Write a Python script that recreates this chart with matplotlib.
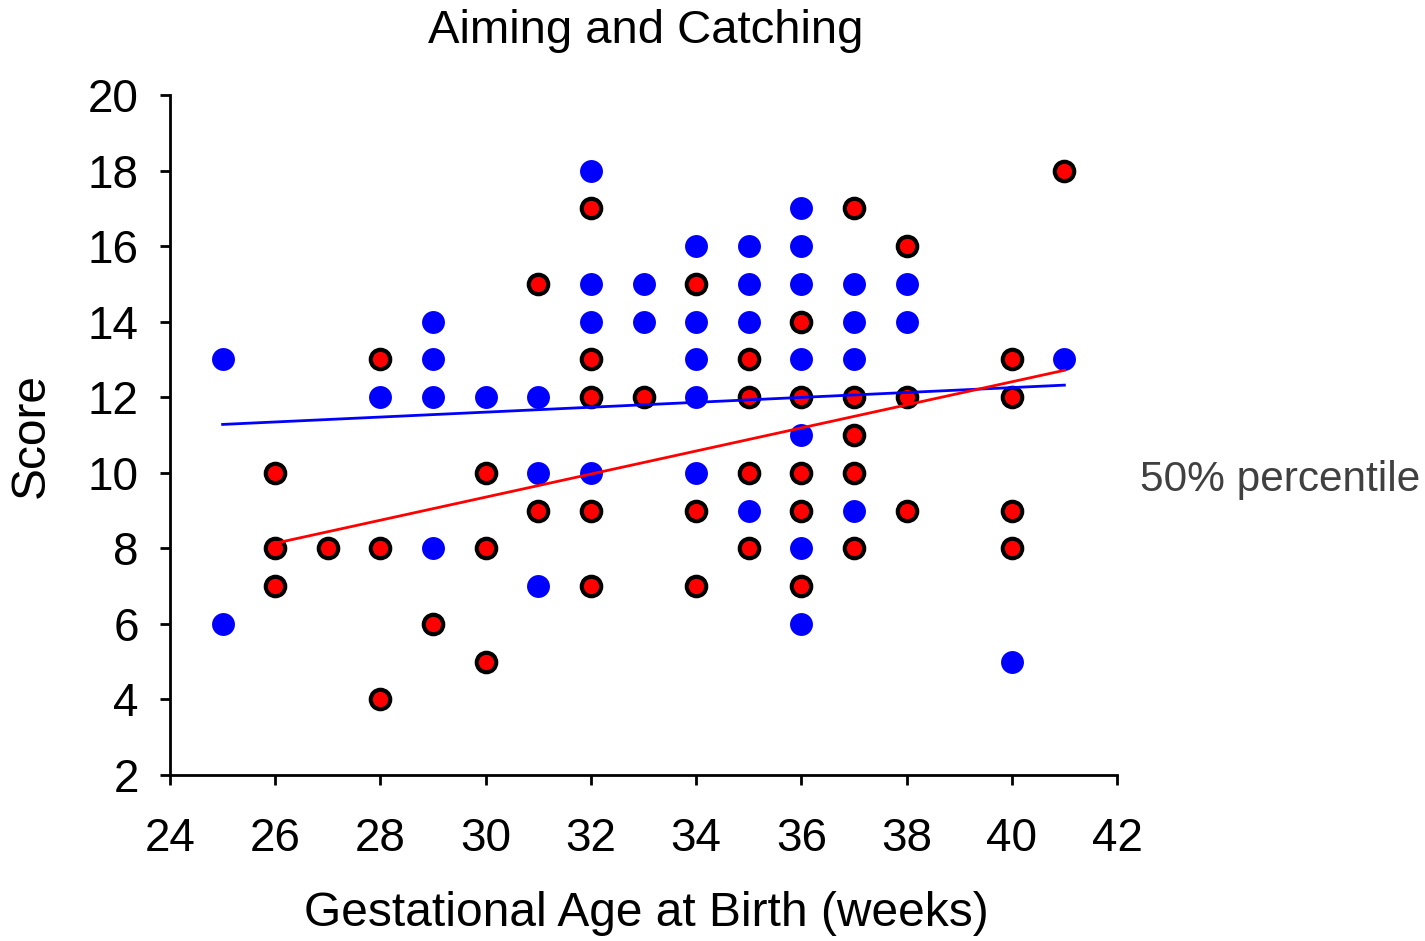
import numpy as np
import matplotlib
matplotlib.use("Agg")
import matplotlib.pyplot as plt

plt.rcParams['font.family'] = ['Liberation Sans', 'DejaVu Sans']

blue_x = [25, 25, 28, 29, 29, 29, 29, 30, 31, 31, 31, 32, 32, 32, 32, 33, 33,
          34, 34, 34, 34, 34, 35, 35, 35, 35, 36, 36, 36, 36, 36, 36, 36,
          37, 37, 37, 37, 38, 38, 40, 41]
blue_y = [13, 6, 12, 14, 13, 12, 8, 12, 12, 10, 7, 18, 15, 14, 10, 15, 14,
          16, 14, 13, 12, 10, 16, 15, 14, 9, 17, 16, 15, 13, 11, 8, 6,
          15, 14, 13, 9, 15, 14, 5, 13]

red_x = [26, 26, 26, 27, 28, 28, 28, 29, 30, 30, 30, 31, 31, 32, 32, 32, 32, 32,
         33, 34, 34, 34, 35, 35, 35, 35, 36, 36, 36, 36, 36, 37, 37, 37, 37, 37,
         38, 38, 38, 40, 40, 40, 40, 41]
red_y = [10, 8, 7, 8, 13, 8, 4, 6, 10, 8, 5, 15, 9, 17, 13, 12, 9, 7,
         12, 15, 9, 7, 13, 12, 10, 8, 14, 12, 10, 9, 7, 17, 12, 11, 10, 8,
         16, 12, 9, 13, 12, 9, 8, 18]

# trend line of the blue group (some blue points are hidden)
blue_trend_x = [25, 41]
blue_trend_y = [11.28, 12.32]

x_ticks = [24, 26, 28, 30, 32, 34, 36, 38, 40, 42]
y_ticks = [2, 4, 6, 8, 10, 12, 14, 16, 18, 20]

W, H = 1425, 941
fig = plt.figure(figsize=(W/100, H/100), dpi=100)
ax = fig.add_axes([170/W, 1 - 775/H, (1117-170)/W, (775-95)/H])

ax.plot(blue_x, blue_y, linestyle='none', marker='o', markersize=16.5,
        markerfacecolor='#0000ff', markeredgewidth=0, zorder=3)
ax.plot(red_x, red_y, linestyle='none', marker='o', markersize=14.0,
        markerfacecolor='#ff0000', markeredgecolor='black', markeredgewidth=3, zorder=4)

rx = np.array(red_x, float); ry = np.array(red_y, float)
rp = np.polyfit(rx, ry, 1)
rl = np.array([rx.min(), rx.max()])
ax.plot(blue_trend_x, blue_trend_y, color='#0000ff', lw=2, zorder=5)
ax.plot(rl, np.polyval(rp, rl), color='#ff0000', lw=2, zorder=5)

ax.set_xlim(24, 42)
ax.set_ylim(2, 20)
ax.set_xticks(x_ticks)
ax.set_yticks(y_ticks)
ax.spines['top'].set_visible(False)
ax.spines['right'].set_visible(False)
for s in ('left', 'bottom'):
    ax.spines[s].set_linewidth(2)
ax.tick_params(axis='both', direction='out', length=7.5, width=2, labelsize=33)
ax.tick_params(axis='x', pad=23)
ax.tick_params(axis='y', pad=15)

ax.set_xlabel('Gestational Age at Birth (weeks)', fontsize=34.5, va='center')
ax.xaxis.set_label_coords((646-170)/947, (775-913)/680)
ax.set_ylabel('Score', fontsize=34.5, va='center')
ax.yaxis.set_label_coords((31-170)/947, 0.5)

fig.text(646/W, 1 - 31/H, 'Aiming and Catching', fontsize=34, ha='center', va='center')
fig.text(1140/W, 1 - 480/H, '50% percentile', fontsize=30.5, color='#404040',
         ha='left', va='center')

fig.savefig('out.png', dpi=100)
